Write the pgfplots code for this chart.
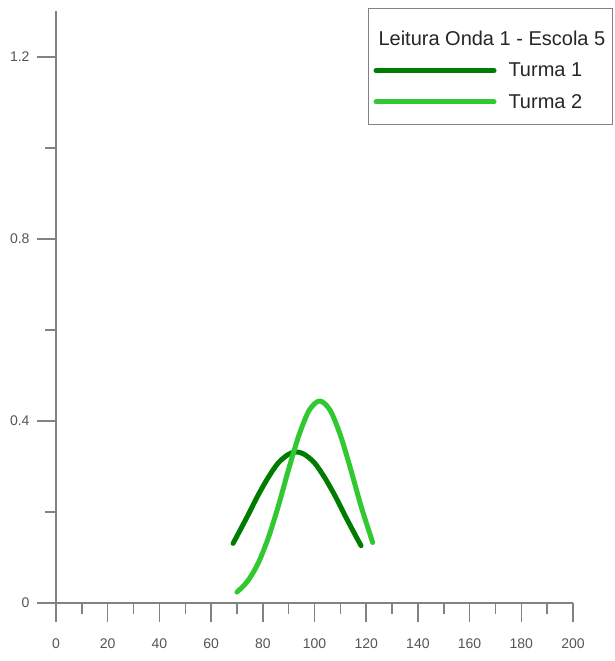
\documentclass[border=0pt]{standalone}
\usepackage{fontspec}
\setmainfont{Liberation Sans}
\usepackage{pgfplots}
\pgfplotsset{compat=1.18}
\definecolor{darkgreen}{RGB}{0,125,0}
\definecolor{lightgreen}{RGB}{50,200,50}
\definecolor{axisgray}{RGB}{130,130,130}
\definecolor{labelgray}{RGB}{85,85,85}
\begin{document}
\begin{tikzpicture}
\useasboundingbox (-56pt,-58pt) rectangle (559pt,603pt);
\begin{axis}[
  at={(0pt,0pt)}, anchor=south west,
  scale only axis, width=517pt, height=591.5pt,
  xmin=0, xmax=200, ymin=0, ymax=1.3,
  axis x line=bottom, axis y line=left,
  axis line style={-, axisgray, line width=1.5pt},
  tick style={axisgray, line width=1.5pt},
  tick align=outside,
  major tick length=19pt, minor tick length=11pt,
  xtick={0,20,...,200}, minor x tick num=1,
  ytick={0,0.4,0.8,1.2}, yticklabels={0,0.4,0.8,1.2}, minor y tick num=1,
  /pgf/number format/assume math mode=true,
  ticklabel style={font=\fontsize{14}{16}\selectfont, text=labelgray},
  xticklabel style={yshift=-13pt},
  yticklabel style={xshift=-4pt},
  legend style={at={(1.077,1.006)}, anchor=north east, draw=axisgray, line width=1pt,
    font=\fontsize{20}{23}\selectfont, text=black!85, inner xsep=5pt, inner ysep=13pt,
    row sep=12pt, column sep=10pt, cells={anchor=west}},
  legend image code/.code={\draw[#1] (0pt,0pt) -- (118pt,0pt);},
]
\addlegendimage{empty legend}
\addlegendentry{\hspace*{-130pt}\rule{0pt}{22pt}Leitura Onda 1 - Escola 5}

% Turma 1
\addplot[darkgreen, line width=5pt, line cap=round, line join=round, smooth] coordinates {
  (68.5,0.131) (70,0.147) (74,0.190) (78,0.235) (82,0.275) (86,0.308)
  (90,0.327) (93,0.332) (96,0.327) (100,0.308) (104,0.275) (108,0.235)
  (112,0.190) (116,0.147) (118,0.126)
};
\addlegendentry{Turma 1}

% Turma 2
\addplot[lightgreen, line width=5pt, line cap=round, line join=round, smooth] coordinates {
  (70,0.024) (74,0.047) (78,0.085) (82,0.141) (86,0.213) (90,0.294)
  (94,0.369) (98,0.424) (102,0.444) (106,0.424) (110,0.369) (114,0.294)
  (118,0.213) (122.5,0.133)
};
\addlegendentry{Turma 2}
\end{axis}
\end{tikzpicture}
\end{document}
